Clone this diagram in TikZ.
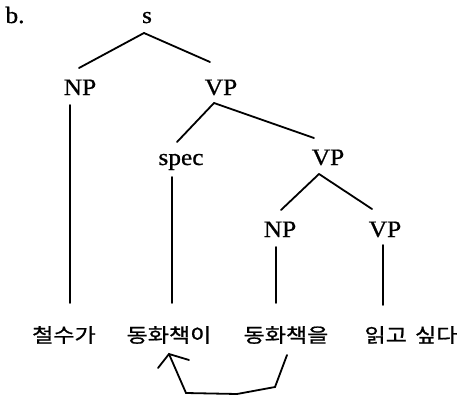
\documentclass[tikz,border=0pt]{standalone}
\usepackage{fontspec}
\setmainfont{Liberation Serif}[FakeStretch=1.08, FakeBold=0.8]
\newfontfamily\kr{Noto Sans CJK KR}[FakeStretch=1.18, FakeBold=1]
\usetikzlibrary{arrows.meta}
\begin{document}
\begin{tikzpicture}[x=1pt,y=-1pt,
  lbl/.style={font=\fontsize{23.5}{24}\selectfont, inner sep=0pt, anchor=base},
  word/.style={font=\kr\fontsize{19.5}{21}\selectfont, inner sep=0pt, anchor=center},
  edge/.style={line width=1.8pt, line cap=round},
  move/.style={line width=1.8pt, line join=miter, line cap=round}]
\useasboundingbox (0,0) rectangle (465,396);
% labels
\node[lbl] (b) at (15,23) {b.};
\node[lbl] (s) at (147,23) {s};
\node[lbl] (np1) at (80,95) {NP};
\node[lbl] (vp1) at (221,95) {VP};
\node[lbl] (spec) at (181,165) {spec};
\node[lbl] (vp2) at (328,165) {VP};
\node[lbl] (np2) at (280,237) {NP};
\node[lbl] (vp3) at (385,237) {VP};
% words
\node[word] (w1) at (64,335) {철수가};
\node[word] (w2) at (169,335) {동화책이};
\node[word] (w3) at (286,335) {동화책을};
\node[word] (w4) at (411,335) {읽고 \hspace{3pt}싶다};
% tree edges
\draw[edge] ([shift={(-3,10)}]s.base) -- ([shift={(-1,-27)}]np1.base);
\draw[edge] ([shift={(-3,10)}]s.base) -- ([shift={(-11,-33)}]vp1.base);
\draw[edge] ([shift={(-10,10)}]np1.base) -- ([shift={(6,-32)}]w1.center);
\draw[edge] ([shift={(-7,8)}]vp1.base) -- ([shift={(-4,-23)}]spec.base);
\draw[edge] ([shift={(-7,8)}]vp1.base) -- ([shift={(-14,-27)}]vp2.base);
\draw[edge] ([shift={(-9,12)}]spec.base) -- ([shift={(3,-32)}]w2.center);
\draw[edge] ([shift={(-9,9)}]vp2.base) -- ([shift={(1,-27)}]np2.base);
\draw[edge] ([shift={(-9,9)}]vp2.base) -- ([shift={(-13,-28)}]vp3.base);
\draw[edge] ([shift={(-4,10)}]np2.base) -- ([shift={(-10,-32)}]w3.center);
\draw[edge] ([shift={(-2,8)}]vp3.base) -- ([shift={(-28,-30)}]w4.center);
% movement arrow
\coordinate (tip) at ([shift={(0,19)}]w2.center);
\draw[move] ([shift={(1,20)}]w3.center) -- ++(-12,32) -- ++(-38,7) -- ++(-51,-1) -- (tip);
\draw[move] ([shift={(-11,14)}]tip) -- (tip) -- ([shift={(20,6)}]tip);
\end{tikzpicture}
\end{document}
